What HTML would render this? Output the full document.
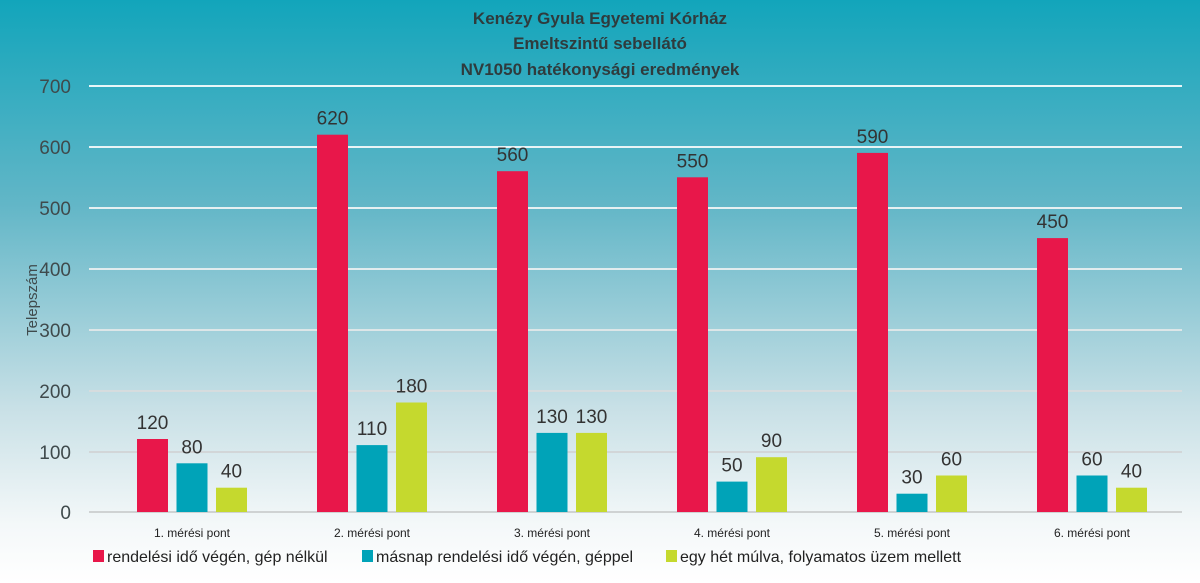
<!DOCTYPE html>
<html><head><meta charset="utf-8"><style>
body{margin:0}
svg{display:block;font-family:"Liberation Sans",sans-serif}
</style></head><body>
<svg width="1200" height="583" viewBox="0 0 1200 583">
<defs><linearGradient id="bg" x1="0" y1="0" x2="0" y2="1">
<stop offset="0" stop-color="#12a5bb"/><stop offset="0.35" stop-color="#62b6c7"/><stop offset="0.7" stop-color="#c8e0e6"/><stop offset="0.9" stop-color="#f4f8f9"/><stop offset="1" stop-color="#ffffff"/></linearGradient></defs>
<rect width="1200" height="583" fill="url(#bg)"/>
<g font-weight="bold" font-size="17" fill="#2f3b3d" text-anchor="middle">
<text x="600" y="24">Kenézy Gyula Egyetemi Kórház</text>
<text x="600" y="49">Emeltszintű sebellátó</text>
<text x="600" y="75">NV1050 hatékonysági eredmények</text>
</g>
<g stroke-width="2">
<line x1="89" x2="1182" y1="86" y2="86" stroke="#e8f6f8"/>
<line x1="89" x2="1182" y1="147" y2="147" stroke="#e8f4f6"/>
<line x1="89" x2="1182" y1="208" y2="208" stroke="#e6f0f2"/>
<line x1="89" x2="1182" y1="269" y2="269" stroke="#e2ecee"/>
<line x1="89" x2="1182" y1="330" y2="330" stroke="#dde6e8"/>
<line x1="89" x2="1182" y1="391" y2="391" stroke="#d6dcde"/>
<line x1="89" x2="1182" y1="452" y2="452" stroke="#d2d6d8"/>
<line x1="89" x2="1182" y1="512" y2="512" stroke="#cfd2d3"/>
</g>
<g font-size="19" fill="#3f4a4c" text-anchor="end">
<text x="71" y="93">700</text><text x="71" y="154">600</text><text x="71" y="215">500</text>
<text x="71" y="276">400</text><text x="71" y="337">300</text><text x="71" y="398">200</text>
<text x="71" y="459">100</text><text x="71" y="519">0</text>
</g>
<text transform="translate(37,300) rotate(-90)" font-size="15" fill="#3f4a4c" text-anchor="middle">Telepszám</text>
<g fill="#e8174a">
<rect x="137" y="439" width="31" height="73"/>
<rect x="317" y="134.7" width="31" height="377.3"/>
<rect x="497" y="171.2" width="31" height="340.8"/>
<rect x="677" y="177.3" width="31" height="334.7"/>
<rect x="857" y="152.9" width="31" height="359.1"/>
<rect x="1037" y="238.1" width="31" height="273.9"/>
</g>
<g fill="#00a3b8">
<rect x="176.5" y="463.3" width="31" height="48.7"/>
<rect x="356.5" y="445.1" width="31" height="66.9"/>
<rect x="536.5" y="432.9" width="31" height="79.1"/>
<rect x="716.5" y="481.6" width="31" height="30.4"/>
<rect x="896.5" y="493.7" width="31" height="18.3"/>
<rect x="1076.5" y="475.5" width="31" height="36.5"/>
</g>
<g fill="#c5d92e">
<rect x="216" y="487.7" width="31" height="24.3"/>
<rect x="396" y="402.5" width="31" height="109.5"/>
<rect x="576" y="432.9" width="31" height="79.1"/>
<rect x="756" y="457.2" width="31" height="54.8"/>
<rect x="936" y="475.5" width="31" height="36.5"/>
<rect x="1116" y="487.7" width="31" height="24.3"/>
</g>
<g font-size="19" fill="#333" text-anchor="middle">
<text x="152.5" y="429">120</text><text x="192" y="453.3">80</text><text x="231.5" y="477.7">40</text>
<text x="332.5" y="124.7">620</text><text x="372" y="435.1">110</text><text x="411.5" y="392.5">180</text>
<text x="512.5" y="161.2">560</text><text x="552" y="422.9">130</text><text x="591.5" y="422.9">130</text>
<text x="692.5" y="167.3">550</text><text x="732" y="471.6">50</text><text x="771.5" y="447.2">90</text>
<text x="872.5" y="142.9">590</text><text x="912" y="483.7">30</text><text x="951.5" y="465.5">60</text>
<text x="1052.5" y="228.1">450</text><text x="1092" y="465.5">60</text><text x="1131.5" y="477.7">40</text>
</g>
<g font-size="12" fill="#222" text-anchor="middle">
<text x="192" y="537">1. mérési pont</text><text x="372" y="537">2. mérési pont</text>
<text x="552" y="537">3. mérési pont</text><text x="732" y="537">4. mérési pont</text>
<text x="912" y="537">5. mérési pont</text><text x="1092" y="537">6. mérési pont</text>
</g>
<g font-size="16" fill="#222">
<rect x="93" y="550" width="11" height="12" fill="#e8174a"/><text x="107" y="562">rendelési idő végén, gép nélkül</text>
<rect x="362" y="550" width="11" height="12" fill="#00a3b8"/><text x="376" y="562">másnap rendelési idő végén, géppel</text>
<rect x="666" y="550" width="11" height="12" fill="#c5d92e"/><text x="680" y="562">egy hét múlva, folyamatos üzem mellett</text>
</g>
</svg>
</body></html>
